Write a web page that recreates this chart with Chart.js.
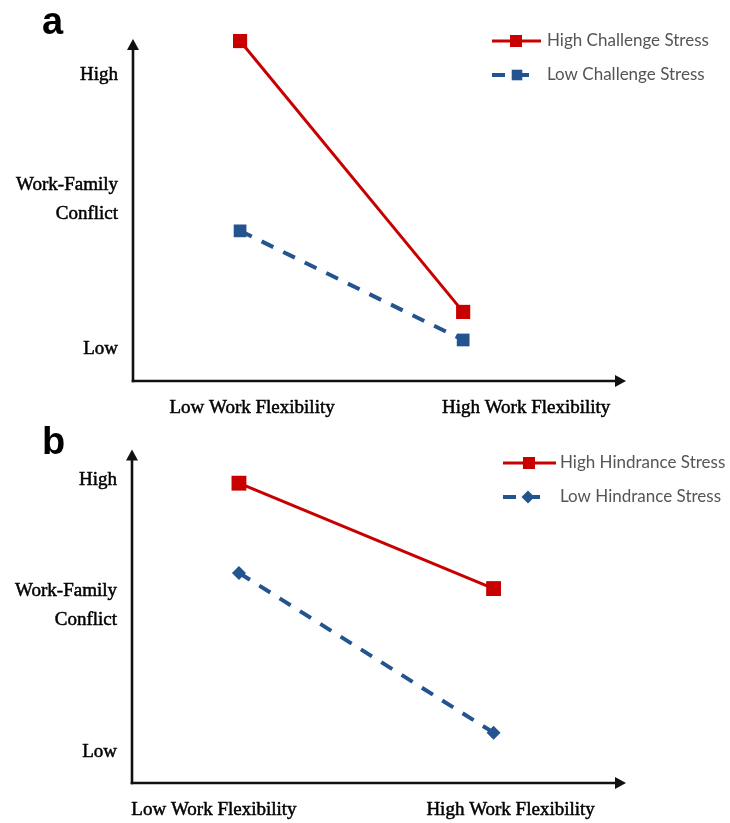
<!DOCTYPE html>
<html>
<head>
<meta charset="utf-8">
<script src="https://cdn.jsdelivr.net/npm/chart.js@4/dist/chart.umd.min.js"></script>
<style>
  html, body { margin: 0; padding: 0; background: #fff; }
  .panel { position: relative; width: 730px; }
  #panelA { height: 420px; }
  #panelB { height: 403px; }
  canvas { display: block; }
</style>
</head>
<body>
<div class="panel" id="panelA"><canvas id="chartA"></canvas></div>
<div class="panel" id="panelB"><canvas id="chartB"></canvas></div>
<script>
// Simple-slopes data: work-family conflict at low / high work flexibility
const flexibility = ['Low Work Flexibility', 'High Work Flexibility'];
const levelLabels = ['High', 'Low'];
const conflictTitle = ['Work-Family', 'Conflict'];

// (a) challenge stress
const highChallenge = [9.94, 2.02];
const lowChallenge = [4.39, 1.20];
const levelTicksA = [8.95, 0.94];

// (b) hindrance stress
const highHindrance = [8.99, 5.83];
const lowHindrance = [6.30, 1.51];
const levelTicksB = [9.08, 0.92];

const RED = '#C80000';
const BLUE = '#24548F';
const SERIF = '"Liberation Serif", "Times New Roman", serif';
const SANS = 'Lato, "Open Sans", sans-serif';

const toPoints = vals => flexibility.map((_, i) => ({ x: i, y: vals[i] }));

// Draws arrowed axes, category labels, panel letter and the line+marker legend
const slopeDecor = {
  id: 'slopeDecor',
  beforeDatasetsDraw(chart, args, opts) {
    const { ctx, chartArea: { left, right, top, bottom } } = chart;
    ctx.save();
    ctx.strokeStyle = '#111';
    ctx.fillStyle = '#111';
    ctx.lineWidth = 2.6;
    const head = 11, half = 6;
    // y axis
    ctx.beginPath();
    ctx.moveTo(left, bottom + 1.3);
    ctx.lineTo(left, top + head - 1);
    ctx.stroke();
    ctx.beginPath();
    ctx.moveTo(left, top);
    ctx.lineTo(left - half, top + head);
    ctx.lineTo(left + half, top + head);
    ctx.closePath();
    ctx.fill();
    // x axis
    ctx.beginPath();
    ctx.moveTo(left - 1.3, bottom);
    ctx.lineTo(right - head + 1, bottom);
    ctx.stroke();
    ctx.beginPath();
    ctx.moveTo(right, bottom);
    ctx.lineTo(right - head, bottom - half);
    ctx.lineTo(right - head, bottom + half);
    ctx.closePath();
    ctx.fill();
    ctx.restore();
  },
  afterDraw(chart, args, opts) {
    const { ctx, chartArea: { bottom } } = chart;
    const xs = chart.scales.x;
    ctx.save();
    // category labels under the x axis
    ctx.fillStyle = '#000';
    ctx.strokeStyle = '#000';
    ctx.lineWidth = 0.5;
    ctx.font = '19px ' + SERIF;
    ctx.textAlign = 'center';
    ctx.textBaseline = 'middle';
    flexibility.forEach((label, i) => {
      const px = xs.getPixelForValue(i) + opts.labelShift[i];
      const py = bottom + opts.labelGap;
      ctx.fillText(label, px, py);
      ctx.strokeText(label, px, py);
    });
    // panel letter
    ctx.font = 'bold 38px "Liberation Sans", Arial, sans-serif';
    ctx.textAlign = 'left';
    ctx.textBaseline = 'alphabetic';
    ctx.fillText(opts.letter, 42, 34);
    // legend
    chart.data.datasets.forEach((ds, i) => {
      const item = opts.legend[i];
      ctx.save();
      ctx.strokeStyle = ds.borderColor;
      ctx.lineWidth = ds.borderWidth;
      ctx.setLineDash(ds.borderDash || []);
      ctx.beginPath();
      ctx.moveTo(item.from, item.y);
      ctx.lineTo(item.to, item.y);
      ctx.stroke();
      ctx.setLineDash([]);
      ctx.fillStyle = ds.borderColor;
      Chart.helpers.drawPoint(ctx, {
        pointStyle: ds.pointStyle, radius: item.radius, rotation: 0, borderWidth: 0
      }, item.marker, item.y);
      ctx.restore();
      ctx.fillStyle = '#555';
      ctx.font = opts.legendFont;
      ctx.textAlign = 'left';
      ctx.textBaseline = 'middle';
      ctx.fillText(ds.label, opts.legendTextX, item.y);
    });
    ctx.restore();
  }
};

function makePanel(canvasId, cfg) {
  const yTicks = [
    { value: cfg.levels[0], label: levelLabels[0] },
    { value: 5.31, label: conflictTitle },
    { value: cfg.levels[1], label: levelLabels[1] }
  ];
  return new Chart(document.getElementById(canvasId), {
    type: 'line',
    data: { datasets: cfg.datasets },
    plugins: [slopeDecor],
    options: {
      responsive: true,
      maintainAspectRatio: false,
      animation: false,
      events: [],
      layout: { padding: cfg.padding },
      plugins: {
        legend: { display: false },
        tooltip: { enabled: false },
        slopeDecor: cfg.decor
      },
      scales: {
        x: { type: 'linear', display: false, min: cfg.xRange[0], max: cfg.xRange[1] },
        y: {
          type: 'linear', min: 0, max: 10,
          border: { display: false },
          grid: { display: false, drawTicks: false },
          afterBuildTicks: s => { s.ticks = yTicks.map(t => ({ value: t.value })); },
          afterFit: s => { s.width = cfg.axisLeft; },
          ticks: {
            autoSkip: false,
            padding: 15,
            color: '#000',
            textStrokeColor: '#000',
            textStrokeWidth: 0.5,
            font: { family: SERIF, size: 19, lineHeight: 29 / 19 },
            callback: (v, i) => yTicks[i].label
          }
        }
      }
    }
  });
}

makePanel('chartA', {
  axisLeft: 133,
  xRange: [-0.48, 1.73],
  levels: levelTicksA,
  padding: { top: 39, bottom: 39, left: 0, right: 104 },
  datasets: [
    {
      label: 'High Challenge Stress', data: toPoints(highChallenge),
      borderColor: RED, backgroundColor: RED, borderWidth: 3,
      pointStyle: 'rect', pointRadius: 10, pointBorderWidth: 0, clip: false
    },
    {
      label: 'Low Challenge Stress', data: toPoints(lowChallenge),
      borderColor: BLUE, backgroundColor: BLUE, borderWidth: 4, borderDash: [13, 11],
      pointStyle: 'rect', pointRadius: 9, pointBorderWidth: 0, clip: false
    }
  ],
  decor: {
    letter: 'a',
    labelShift: [12, 63],
    labelGap: 27,
    legendFont: '17px ' + SANS,
    legendTextX: 547,
    legend: [
      { y: 41, from: 492, to: 541, marker: 516, radius: 8.5 },
      { y: 75, from: 492, to: 532, marker: 517, radius: 7.5 }
    ]
  }
});

makePanel('chartB', {
  axisLeft: 132,
  xRange: [-0.42, 1.52],
  levels: levelTicksB,
  padding: { top: 25, bottom: 40, left: 0, right: 104 },
  datasets: [
    {
      label: 'High Hindrance Stress', data: toPoints(highHindrance),
      borderColor: RED, backgroundColor: RED, borderWidth: 3,
      pointStyle: 'rect', pointRadius: 10.5, pointBorderWidth: 0, clip: false
    },
    {
      label: 'Low Hindrance Stress', data: toPoints(lowHindrance),
      borderColor: BLUE, backgroundColor: BLUE, borderWidth: 4, borderDash: [13, 11],
      pointStyle: 'rectRot', pointRadius: 7, pointBorderWidth: 0, clip: false
    }
  ],
  decor: {
    letter: 'b',
    labelShift: [-25, 17],
    labelGap: 27,
    legendFont: '17px ' + SANS,
    legendTextX: 560,
    legend: [
      { y: 463, from: 503, to: 556, marker: 529, radius: 8.5 },
      { y: 497, from: 503, to: 543, marker: 528, radius: 6.5 }
    ].map(l => ({ ...l, y: l.y - 420 }))
  }
});
</script>
</body>
</html>
